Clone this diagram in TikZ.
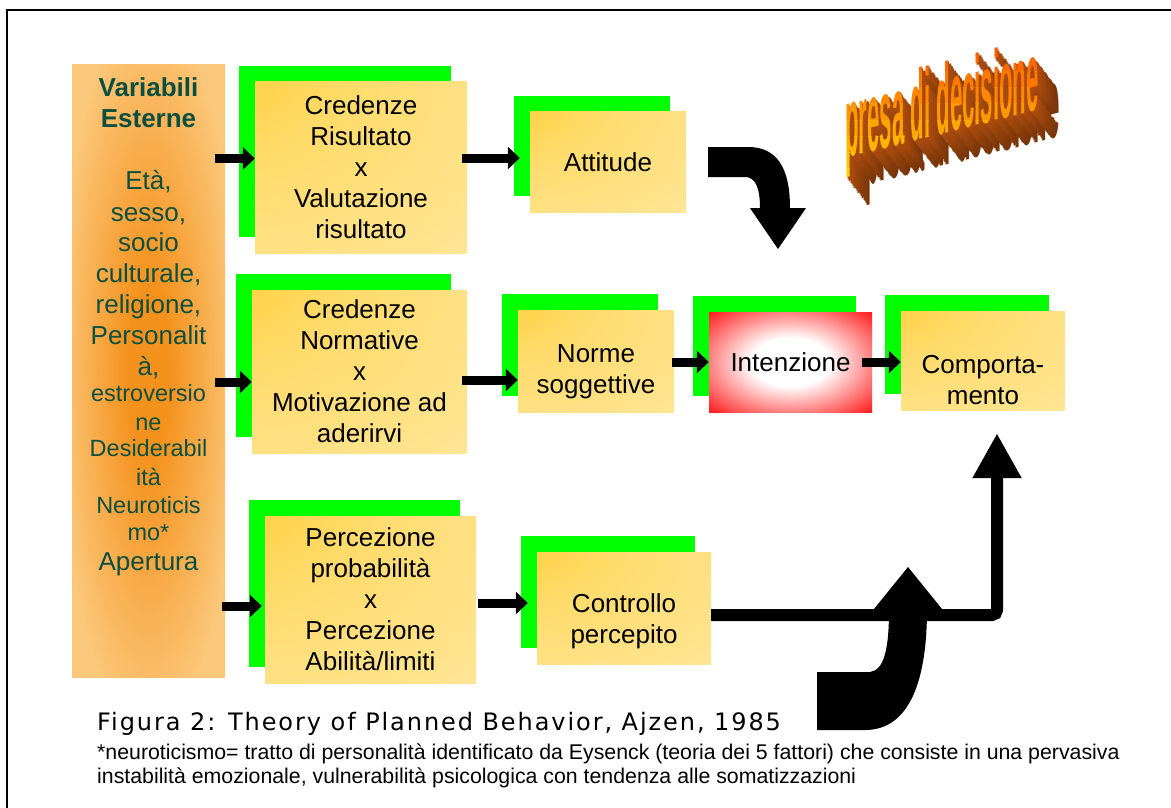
\documentclass[tikz,border=0pt]{standalone}
\usepackage{fontspec}
\setmainfont{Liberation Sans}
\newfontfamily\capfont[LetterSpace=8]{DejaVu Sans}
\usetikzlibrary{arrows.meta,shadows,positioning}

\definecolor{cardgreen}{HTML}{00FF00}
\definecolor{cardgold}{HTML}{FFC71C}
\definecolor{cardpale}{HTML}{FFEBAA}
\definecolor{extdark}{HTML}{F5921E}
\definecolor{extpale}{HTML}{FBC87B}
\definecolor{exttext}{HTML}{0C4F40}
\definecolor{redbox}{HTML}{FF1414}
\definecolor{wordtop}{HTML}{FFE400}
\definecolor{wordbot}{HTML}{FF5A00}
\definecolor{wordside}{HTML}{B04E0E}

\pgfdeclareradialshading{cardshade}{\pgfpoint{-45bp}{45bp}}{color(0bp)=(cardgold); color(30bp)=(cardgold!45!cardpale); color(75bp)=(cardpale); color(100bp)=(cardpale)}
\pgfdeclareradialshading{extshade}{\pgfpointorigin}{color(0bp)=(extdark); color(7bp)=(extdark); color(30bp)=(extpale); color(100bp)=(extpale)}
\pgfdeclareradialshading{redshade}{\pgfpointorigin}{color(0bp)=(white); color(12bp)=(white); color(36bp)=(redbox); color(100bp)=(redbox)}

\tikzset{
  card/.style={shade, shading=cardshade, align=center, inner sep=0pt,
    font=\fontsize{26}{31}\selectfont,
    drop shadow={shadow xshift=-16pt, shadow yshift=16pt, fill=cardgreen, opacity=1}},
  redcard/.style={card, shading=redshade},
  cardtext/.style={align=center, inner sep=0pt, font=\fontsize{26}{31}\selectfont},
  extbox/.style={shade, shading=extshade, inner sep=0pt},
  extline/.style={anchor=base, inner sep=0pt, text=exttext, font=\fontsize{26}{31}\selectfont},
  fat/.style={line width=9pt, -{Triangle[length=12pt,width=22pt]}},
  word/.style={anchor=base west, inner sep=0pt, yslant=0.25, xscale=0.74, yscale=3.3,
    font=\fontsize{30}{30}\selectfont\bfseries}
}

\begin{document}
\begin{tikzpicture}[x=1pt, y=-1pt]
    \useasboundingbox (0,0) rectangle (1171,808);
    \draw[line width=2pt] (7,808) -- (7,10) -- (1171,10);

    % variabili esterne
    \node[extbox, minimum width=153pt, minimum height=612pt] (ext) at (148.5,371) {};
    \node[extline, font=\fontsize{26}{31}\selectfont\bfseries] (ext1) at (148.5,97) {Variabili};
    \node[extline, font=\fontsize{26}{31}\selectfont\bfseries] (ext2) at (148.5,128) {Esterne};
    \foreach \t/\y [count=\i] in {{Età,}/189, {sesso,}/221, socio/251, {culturale,}/282, {religione,}/313, Personalit/344, {à,}/375, Apertura/570}
        \node[extline] (big\i) at (148.5,\y) {\t};
    \foreach \t/\y [count=\i] in {estroversio/401, ne/430, Desiderabil/456, ità/485, Neuroticis/513, mo*/540}
        \node[extline, font=\fontsize{23.5}{28}\selectfont] (small\i) at (148.5,\y) {\t};

    % boxes
    \node[card, minimum width=212pt, minimum height=171pt] (cr) at (361,167.5) {Credenze\\Risultato\\x\\Valutazione\\risultato};
    \node[card, minimum width=156pt, minimum height=100pt] (att) at (608,162) {Attitude};
    \node[card, minimum width=215pt, minimum height=163pt] (cn) at (359.5,371.5) {Credenze\\Normative\\x\\Motivazione ad\\aderirvi};
    \node[card, minimum width=156pt, minimum height=102pt] (nor) at (596,361) {};
    \node[cardtext] (nor-t) at ([yshift=-11pt]nor.center) {Norme\\soggettive};
    \node[redcard, minimum width=163pt, minimum height=100pt] (int) at (790.5,362) {Intenzione};
    \node[card, minimum width=164pt, minimum height=99pt] (com) at (983,360.5) {};
    \node[cardtext] (com-t) at ([yshift=-20pt]com.center) {Comporta-\\mento};
    \node[card, minimum width=211pt, minimum height=167pt] (pp) at (370.5,599.5) {Percezione\\probabilità\\x\\Percezione\\Abilità/limiti};
    \node[card, minimum width=174pt, minimum height=112pt] (ctl) at (624,608) {};
    \node[cardtext] (ctl-t) at ([yshift=-13pt]ctl.center) {Controllo\\percepito};

    % arrows
    \draw[fat] ([shift={(-40,-9)}]cr.west) -- ([shift={(0,-9)}]cr.west);
    \draw[fat] ([shift={(-5,-9.5)}]cr.east) -- ([shift={(-10,-4)}]att.west);
    \draw[fat] ([shift={(-37,10.5)}]cn.west) -- ([shift={(0,10.5)}]cn.west);
    \draw[fat] ([shift={(-5,8.5)}]cn.east) -- ([shift={(0,19)}]nor.west);
    \draw[fat] ([shift={(-2,1)}]nor.east) -- (int.west);
    \draw[fat] ([xshift=-10pt]int.east) -- ([shift={(0,1.5)}]com.west);
    \draw[fat] ([shift={(-43,6.5)}]pp.west) -- ([shift={(-3,6.5)}]pp.west);
    \draw[fat] ([shift={(2,3.5)}]pp.east) -- ([shift={(-9,-5)}]ctl.west);
    \draw[line width=12pt, rounded corners=5pt, -{Triangle[length=45pt,width=46pt]}]
        ([shift={(0,7)}]ctl.east) -| ([shift={(14,23)}]com.south);

    % bent arrows
    \fill (708,147) -- (748,147) .. controls (775,147) and (790,165) .. (790,208) -- (806,208)
        -- (778,249) -- (750,208) -- (760,208) .. controls (760,187) and (755,177) .. (745,177) -- (708,177) -- cycle;
    \fill (817,672) -- (870,672) .. controls (884,670) and (889,650) .. (889,609) -- (874,609)
        -- (908,567) -- (942,609) -- (927,609) .. controls (927,690) and (905,730) .. (865,730) -- (817,730) -- cycle;

    % presa di decisione
    \foreach \k in {16,...,1}
        \node[word, text=wordside!\the\numexpr 100-2*\k\relax!black] (wa\k) at (845+1.3*\k,158+1.7*\k) {presa di decisione};
    \foreach \b in {0,...,9} {
        \begin{scope}
            \clip (830,40+16*\b) rectangle (1090,56+16*\b);
            \node[word, text=wordbot!\the\numexpr 100-11*\b\relax!wordtop] (wf\b) at (845,158) {presa di decisione};
        \end{scope}
    }

    % caption
    \node[anchor=base west, inner sep=0pt, font=\capfont\fontsize{24}{24}\selectfont] (cap) at (97,730) {Figura 2: Theory of Planned Behavior, Ajzen, 1985};
    \node[anchor=base west, inner sep=0pt, font=\fontsize{21.3}{24}\selectfont] (note1) at (97,759) {*neuroticismo= tratto di personalità identificato da Eysenck (teoria dei 5 fattori) che consiste in una pervasiva};
    \node[anchor=base west, inner sep=0pt, font=\fontsize{21.3}{24}\selectfont] (note2) at (97,783) {instabilità emozionale, vulnerabilità psicologica con tendenza alle somatizzazioni};
\end{tikzpicture}
\end{document}
